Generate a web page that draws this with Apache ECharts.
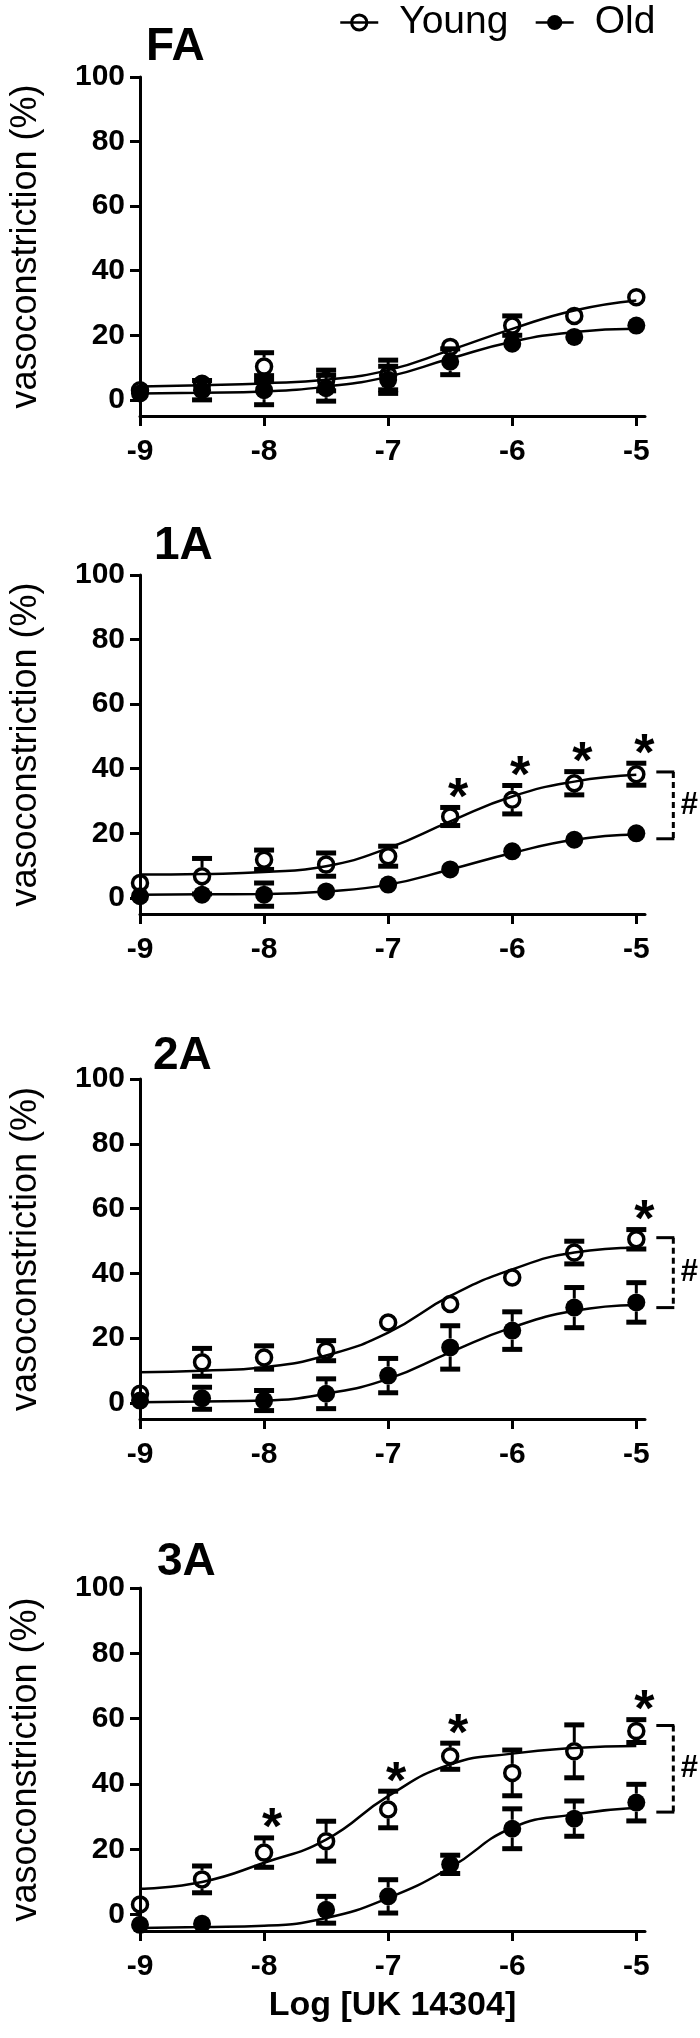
<!DOCTYPE html>
<html><head><meta charset="utf-8">
<script src="https://cdn.jsdelivr.net/npm/echarts@6/dist/echarts.min.js"></script>
<style>html,body{margin:0;padding:0;background:#fff}#c{width:700px;height:2038px}</style>
</head><body><div id="c"></div>
<script>
// ---- data ----
const xVals = [-9, -8.5, -8, -7.5, -7, -6.5, -6, -5.5, -5];
const xTicks = [-9, -8, -7, -6, -5];
const yTicks = [0, 20, 40, 60, 80, 100];
const seriesNames = ['Young', 'Old'];
const panelNames = ['FA', '1A', '2A', '3A'];
const xAxisTitle = 'Log [UK 14304]';
const yAxisTitle = 'vasoconstriction (%)';

// FA
const faYoung    = [3, 5, 10.3, 6, 7.7, 16.4, 23, 26, 31.8];
const faYoungErr = [1, 1, 4.3, 3.2, 4.6, 1.5, 3, 1, 2.6];
const faOld      = [2, 3, 3, 3.6, 6.2, 11.8, 17.4, 19.5, 23];
const faOldErr   = [1, 3, 4.5, 4, 4.2, 4, 2, 1, 1];
const faYoungFit = [4.1, 4.5, 5.1, 6.2, 9.2, 15.4, 22, 27.7, 30.8];
const faOldFit   = [2, 2.2, 2.6, 4.1, 7.2, 12.8, 18, 21, 22];
const faStars    = [];
const faBracket  = null;

// 1A
const a1Young    = [4.6, 6.7, 11.8, 10.3, 12.9, 25.2, 30.4, 35.5, 38.3];
const a1YoungErr = [1, 5.5, 3, 3.6, 3.1, 2.8, 4.4, 3.6, 3.4];
const a1Old      = [0.5, 1, 1, 2, 4.1, 8.8, 14.4, 18, 20];
const a1OldErr   = [0.5, 1, 3.6, 1, 1, 1, 2, 1, 1];
const a1YoungFit = [7.2, 7.4, 8, 9.8, 15.4, 23.7, 31.4, 36, 38.1];
const a1OldFit   = [1, 1.1, 1.2, 2, 4.1, 8.8, 13.9, 18, 19.6];
const a1Stars    = [-6.5, -6, -5.5, -5];
const a1Bracket  = [39, 18.3];

// 2A
const a2Young    = [2.8, 12.5, 14, 16.1, 24.8, 30.5, 38.7, 46.4, 50.5];
const a2YoungErr = [1, 4.3, 3.6, 3.1, 0.5, 0.5, 0.5, 3.5, 3];
const a2Old      = [0.7, 1.4, 0.7, 2.8, 8.4, 17.1, 22.3, 29.4, 31];
const a2OldErr   = [1, 3.4, 3.1, 4.6, 5.3, 6.7, 5.8, 6.2, 6.1];
const a2YoungFit = [9.4, 9.9, 11, 14.6, 21.7, 33, 41.2, 46.4, 47.9];
const a2OldFit   = [0.2, 0.4, 0.7, 2.8, 7.4, 15.6, 23.3, 28.4, 30.2];
const a2Stars    = [-5];
const a2Bracket  = [51, 29.4];

// 3A
const a3Young    = [3.1, 10.8, 19, 22.5, 32.2, 48.5, 43.4, 50, 56.2];
const a3YoungErr = [1, 4.1, 4.5, 6.1, 5.6, 4, 7, 8.1, 3.5];
const a3Old      = [-3.1, -2.8, null, 1.5, 5.6, 15.4, 26.3, 29.4, 34.3];
const a3OldErr   = [1.5, 1, null, 4.1, 5.1, 2.8, 6.1, 5.4, 5.6];
const a3YoungFit = [7.9, 10, 15.9, 23, 36.3, 46, 49.3, 51, 51.6];
const a3OldFit   = [-4.1, -3.8, -3.4, -1, 5.1, 14.4, 26.6, 30.7, 32.7];
const a3Stars    = [-8, -7, -6.5, -5];
const a3Bracket  = [57.9, 31.4];

// ---- layout / style ----
const FONT = '"Liberation Sans", Arial, Helvetica, sans-serif';
const grids = [
  {left: 135, width: 510, top: 77,   height: 339},
  {left: 135, width: 510, top: 575,  height: 339},
  {left: 135, width: 510, top: 1079, height: 340},
  {left: 135, width: 510, top: 1588, height: 343}
];
const titlePos = [[146, 24], [154, 523], [153, 1033], [157, 1539]];
const MARK_R = 9;

const panels = [
  {young: faYoung, youngErr: faYoungErr, old: faOld, oldErr: faOldErr, youngFit: faYoungFit, oldFit: faOldFit, stars: faStars, bracket: faBracket},
  {young: a1Young, youngErr: a1YoungErr, old: a1Old, oldErr: a1OldErr, youngFit: a1YoungFit, oldFit: a1OldFit, stars: a1Stars, bracket: a1Bracket},
  {young: a2Young, youngErr: a2YoungErr, old: a2Old, oldErr: a2OldErr, youngFit: a2YoungFit, oldFit: a2OldFit, stars: a2Stars, bracket: a2Bracket},
  {young: a3Young, youngErr: a3YoungErr, old: a3Old, oldErr: a3OldErr, youngFit: a3YoungFit, oldFit: a3OldFit, stars: a3Stars, bracket: a3Bracket}
];

function pairs(vals) {
  return xVals.map((x, j) => [x, vals[j]]).filter(d => d[1] != null);
}
function triples(vals, errs) {
  return xVals.map((x, j) => [x, vals[j], errs[j]]).filter(d => d[1] != null);
}

function errRender(params, api) {
  const x = api.value(0), y = api.value(1), e = api.value(2);
  const c = api.coord([x, y]);
  const top = api.coord([x, y + e])[1];
  const bot = api.coord([x, y - e])[1];
  const st = {stroke: '#000', lineWidth: 3};
  const ch = [];
  if (c[1] - top > MARK_R) {
    ch.push({type: 'line', shape: {x1: c[0], y1: top, x2: c[0], y2: c[1] - MARK_R}, style: st});
    ch.push({type: 'rect', shape: {x: c[0] - 10, y: top - 2.5, width: 20, height: 5}, style: {fill: '#000'}});
  }
  if (bot - c[1] > MARK_R) {
    ch.push({type: 'line', shape: {x1: c[0], y1: c[1] + MARK_R, x2: c[0], y2: bot}, style: st});
    ch.push({type: 'rect', shape: {x: c[0] - 10, y: bot - 2.5, width: 20, height: 5}, style: {fill: '#000'}});
  }
  return {type: 'group', children: ch};
}

function starRender(params, api) {
  const c = api.coord([api.value(0), api.value(1)]);
  return {type: 'text', x: c[0] + 8, y: c[1] - 8,
    style: {text: '*', fontSize: 52, fontWeight: 'bold', fontFamily: FONT, fill: '#000', align: 'center', verticalAlign: 'middle'}};
}

function bracketRender(params, api) {
  const xEnd = xVals[xVals.length - 1];
  const x0 = api.coord([xEnd, 0])[0];
  const yt = api.coord([xEnd, api.value(0)])[1];
  const yb = api.coord([xEnd, api.value(1)])[1];
  const st = {stroke: '#000', lineWidth: 3};
  return {type: 'group', children: [
    {type: 'line', shape: {x1: x0 + 20, y1: yt, x2: x0 + 38, y2: yt}, style: st},
    {type: 'line', shape: {x1: x0 + 20, y1: yb, x2: x0 + 38, y2: yb}, style: st},
    {type: 'line', shape: {x1: x0 + 37, y1: yt, x2: x0 + 37, y2: yb}, style: {stroke: '#000', lineWidth: 3, lineDash: [6, 4]}},
    {type: 'text', x: x0 + 53, y: (yt + yb) / 2, style: {text: '#', fontSize: 31, fontWeight: 'bold', fontFamily: FONT, fill: '#000', align: 'center', verticalAlign: 'middle'}}
  ]};
}

const option = {
  animation: false,
  backgroundColor: '#fff',
  title: panelNames.map((t, i) => ({
    text: t, left: titlePos[i][0], top: titlePos[i][1], padding: 0,
    textStyle: {fontSize: 46, fontWeight: 'bold', color: '#000', fontFamily: FONT}
  })),
  legend: {
    left: 339, top: 3, padding: 0, itemWidth: 38, itemHeight: 19, itemGap: 26,
    selectedMode: false,
    textStyle: {fontSize: 39, color: '#000', fontFamily: FONT, padding: [0, 0, 0, 16]},
    data: [
      {name: seriesNames[0], itemStyle: {color: 'rgba(0,0,0,0)', borderColor: '#000', borderWidth: 3}, lineStyle: {color: '#000', width: 2.5}},
      {name: seriesNames[1], itemStyle: {color: '#000', borderColor: '#000', borderWidth: 0}, lineStyle: {color: '#000', width: 2.5}}
    ]
  },
  grid: grids,
  xAxis: grids.map((g, i) => ({
    gridIndex: i, type: 'value', min: -9, max: -4.93,
    axisLine: {show: true, onZero: false, lineStyle: {color: '#000', width: 3}},
    axisTick: {show: true, length: 10, lineStyle: {color: '#000', width: 3}, customValues: xTicks},
    axisLabel: {customValues: xTicks, margin: 21, fontSize: 30, fontWeight: 'bold', color: '#000', fontFamily: FONT},
    splitLine: {show: false},
    name: i === grids.length - 1 ? xAxisTitle : '',
    nameLocation: 'middle', nameGap: 58,
    nameTextStyle: {fontSize: 34, fontWeight: 'bold', color: '#000', fontFamily: FONT}
  })),
  yAxis: grids.map((g, i) => ({
    gridIndex: i, type: 'value', min: -5, max: 100,
    axisLine: {show: true, onZero: false, lineStyle: {color: '#000', width: 3}},
    axisTick: {show: true, length: 10, lineStyle: {color: '#000', width: 3}, customValues: yTicks},
    axisLabel: {customValues: yTicks, margin: 15, fontSize: 30, fontWeight: 'bold', color: '#000', fontFamily: FONT},
    splitLine: {show: false},
    name: yAxisTitle, nameLocation: 'middle', nameGap: 96,
    nameTextStyle: {fontSize: 36, color: '#000', fontFamily: FONT}
  })),
  series: []
};

panels.forEach((p, i) => {
  const ax = {xAxisIndex: i, yAxisIndex: i};
  option.series.push(
    Object.assign({type: 'line', name: seriesNames[0], data: pairs(p.youngFit), smooth: 0.5,
      symbol: 'none', lineStyle: {color: '#000', width: 2.5}, itemStyle: {color: '#000'}, silent: true, z: 2}, ax),
    Object.assign({type: 'line', name: seriesNames[1], data: pairs(p.oldFit), smooth: 0.5,
      symbol: 'none', lineStyle: {color: '#000', width: 2.5}, itemStyle: {color: '#000'}, silent: true, z: 2}, ax),
    Object.assign({type: 'custom', name: seriesNames[0] + ' err', data: triples(p.young, p.youngErr), renderItem: errRender, clip: false, silent: true, z: 3}, ax),
    Object.assign({type: 'custom', name: seriesNames[1] + ' err', data: triples(p.old, p.oldErr), renderItem: errRender, clip: false, silent: true, z: 3}, ax),
    Object.assign({type: 'scatter', name: seriesNames[0], data: pairs(p.young), symbol: 'circle', symbolSize: 15,
      itemStyle: {color: 'rgba(0,0,0,0)', borderColor: '#000', borderWidth: 3.5, opacity: 1}, silent: true, z: 4}, ax),
    Object.assign({type: 'scatter', name: seriesNames[1], data: pairs(p.old), symbol: 'circle', symbolSize: 18,
      itemStyle: {color: '#000', opacity: 1}, silent: true, z: 4}, ax),
    Object.assign({type: 'custom', name: 'stars', data: p.stars.map(x => {
        const j = xVals.indexOf(x); return [x, p.young[j] + p.youngErr[j]]; }),
      renderItem: starRender, clip: false, silent: true, z: 5}, ax)
  );
  if (p.bracket) {
    option.series.push(Object.assign({type: 'custom', name: 'bracket', data: [p.bracket], renderItem: bracketRender, clip: false, silent: true, z: 5}, ax));
  }
});

const chart = echarts.init(document.getElementById('c'), null, {renderer: 'canvas'});
chart.setOption(option);
</script>
</body></html>
